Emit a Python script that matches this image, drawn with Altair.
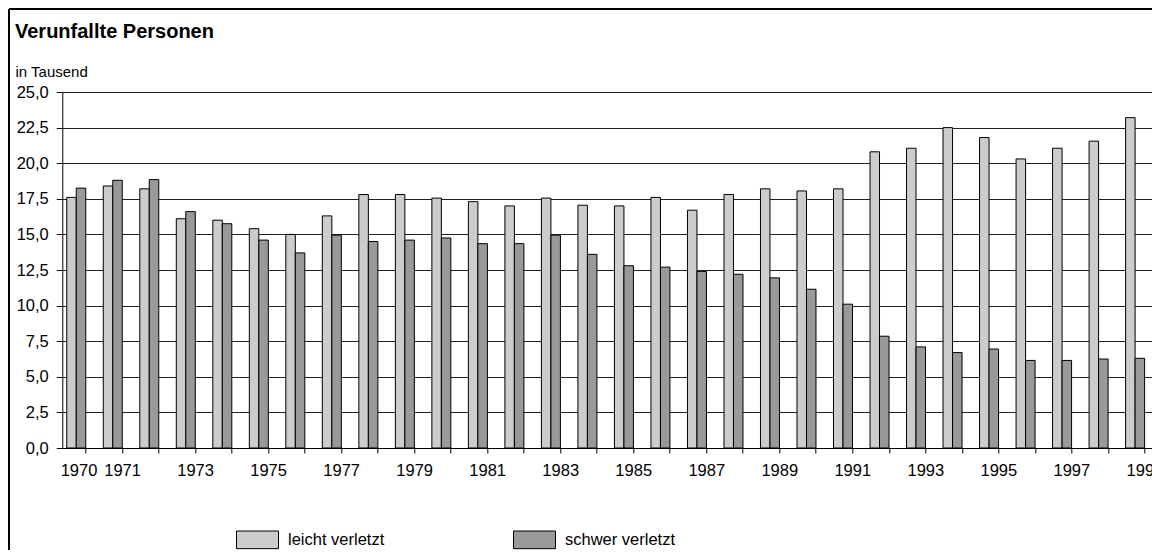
import altair as alt
import pandas as pd

years = list(range(1970, 2000))
leicht = [17.6, 18.4, 18.2, 16.1, 16.0, 15.4, 15.0, 16.3, 17.8, 17.8,
          17.55, 17.3, 17.0, 17.55, 17.05, 17.0, 17.6, 16.7, 17.8, 18.2,
          18.05, 18.2, 20.8, 21.05, 22.5, 21.8, 20.3, 21.05, 21.55, 23.2]
schwer = [18.25, 18.8, 18.85, 16.6, 15.75, 14.6, 13.7, 14.95, 14.5, 14.6,
          14.75, 14.35, 14.35, 14.95, 13.6, 12.8, 12.7, 12.4, 12.2, 11.95,
          11.15, 10.1, 7.85, 7.1, 6.7, 6.95, 6.15, 6.15, 6.25, 6.3]
series = ["leicht verletzt", "schwer verletzt"]
colors = ["#cccccc", "#999999"]
y_ticks = [0, 2.5, 5, 7.5, 10, 12.5, 15, 17.5, 20, 22.5, 25]

rows = []
for yr, l, s in zip(years, leicht, schwer):
    rows.append({"Jahr": yr, "Serie": series[0], "Wert": l})
    rows.append({"Jahr": yr, "Serie": series[1], "Wert": s})
df = pd.DataFrame(rows)

FONT = "Liberation Sans"
PLOT_W = 1089.7
STEP = 36.85
H = 356
x_domain = [1969.5, 1969.5 + PLOT_W / STEP]

x_enc = alt.X(
    "Jahr:Q",
    scale=alt.Scale(domain=x_domain, nice=False, zero=False),
    axis=alt.Axis(
        title=None, labelAngle=0, grid=False, values=years, format="d",
        labelExpr="(datum.value == 1970 || datum.value % 2 == 1) ? datum.label : ''",
        labelOverlap=False, labelFlush=False, labelBound=False,
        tickSize=5, labelPadding=9, labelFontSize=16.5,
        domainColor="#000", tickColor="#000", labelColor="#000",
        labelOffset={"condition": {"test": "datum.value == 1970", "value": -7}, "value": 0},
    ),
)
y_enc = alt.Y(
    "Wert:Q",
    scale=alt.Scale(domain=[0, 25], nice=False),
    axis=alt.Axis(
        values=y_ticks,
        labelExpr="replace(format(datum.value, '.1f'), '.', ',')",
        title="in Tausend", titleAngle=0, titleAlign="left",
        titleBaseline="alphabetic", titleX=-47.3, titleY=-16,
        titleFontSize=15, titleFontWeight="normal", titleColor="#000",
        labelFontSize=16.5, labelColor="#000", tickSize=6, labelPadding=8,
        domainColor="#000", tickColor="#000", gridColor="#222", gridOpacity=1,
    ),
)
color_enc = alt.Color(
    "Serie:N",
    scale=alt.Scale(domain=series, range=colors),
    legend=alt.Legend(
        title=None, orient="none", legendX=173.7, legendY=426,
        direction="horizontal", symbolType="M-1,-0.42H1V0.42H-1Z",
        symbolSize=1764, symbolStrokeColor="#000", symbolStrokeWidth=1,
        symbolOpacity=1, labelFontSize=16.5, labelOffset=9, columnPadding=126,
        padding=0, labelColor="#000", labelFont=FONT,
    ),
)

base = alt.Chart(df).encode(x=x_enc, y=y_enc, color=color_enc)
light = base.transform_filter(alt.datum.Serie == series[0]).mark_bar(
    width=9.5, xOffset=-14.05, stroke="#000", strokeWidth=1, opacity=1)
dark = base.transform_filter(alt.datum.Serie == series[1]).mark_bar(
    width=9.5, xOffset=-4.55, stroke="#000", strokeWidth=1, opacity=1)

frame_data = alt.Data(values=[{"a": 1}])
frame_left = alt.Chart(frame_data).mark_rule(color="#000", strokeWidth=2).encode(
    x=alt.value(-53.3), y=alt.value(-83), y2=alt.value(600))
frame_top = alt.Chart(frame_data).mark_rule(color="#000", strokeWidth=2).encode(
    x=alt.value(-53.3), x2=alt.value(1200), y=alt.value(-83))

chart = alt.layer(light, dark, frame_left, frame_top).properties(
    width=PLOT_W, height=H,
    title=alt.TitleParams("Verunfallte Personen", anchor="start", frame="group",
                          dx=-47.3, fontSize=20, fontWeight="bold", font=FONT,
                          color="#000", offset=0, baseline="alphabetic", dy=50),
    padding={"left": 54.3, "top": 84, "right": 0, "bottom": 102},
    autosize="none",
).configure(font=FONT).configure_view(stroke=None).configure_axis(
    labelFont=FONT, titleFont=FONT
)

chart.save("out.html", embed_options={"renderer": "svg", "actions": False})
